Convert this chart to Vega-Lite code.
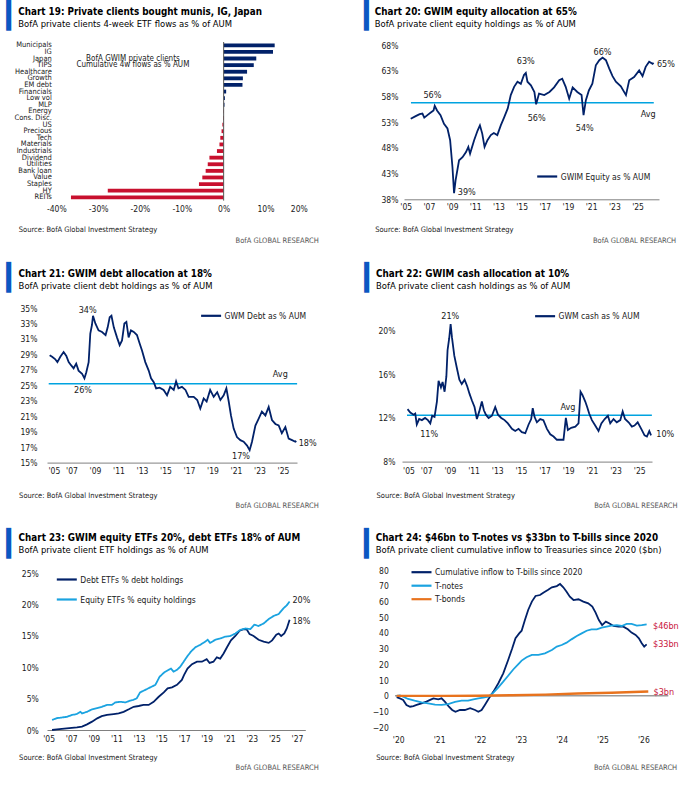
{
"$schema": "https://vega.github.io/schema/vega-lite/v6.json",
"background": "white",
"padding": {"left": 6, "top": 3, "right": 0, "bottom": 0},
"datasets": {
"flows": [{"cat":"Municipals","v":12.2},{"cat":"IG","v":11.8},{"cat":"Japan","v":7.8},{"cat":"TIPS","v":7.2},{"cat":"Healthcare","v":5.6},{"cat":"Growth","v":4.6},{"cat":"EM debt","v":4.5},{"cat":"Financials","v":0.6},{"cat":"Low vol","v":0.3},{"cat":"MLP","v":0.2},{"cat":"Energy","v":-0.1},{"cat":"Cons. Disc.","v":-0.15},{"cat":"US","v":-0.3},{"cat":"Precious","v":-0.5},{"cat":"Tech","v":-0.8},{"cat":"Materials","v":-1.0},{"cat":"Industrials","v":-1.6},{"cat":"Dividend","v":-3.4},{"cat":"Utilities","v":-3.8},{"cat":"Bank loan","v":-4.3},{"cat":"Value","v":-5.1},{"cat":"Staples","v":-5.9},{"cat":"HY","v":-27.7},{"cat":"REITs","v":-36.5}],
"eq": [{"t":2005.43,"v":53.7},{"t":2005.86,"v":54.2},{"t":2006.2,"v":54.6},{"t":2006.44,"v":54.7},{"t":2006.6,"v":53.9},{"t":2006.87,"v":54.4},{"t":2007.16,"v":54.9},{"t":2007.4,"v":55.3},{"t":2007.5,"v":56.2},{"t":2007.7,"v":55.3},{"t":2008.0,"v":54.4},{"t":2008.3,"v":52.7},{"t":2008.6,"v":51.8},{"t":2008.83,"v":49.5},{"t":2009.03,"v":44.3},{"t":2009.17,"v":39.2},{"t":2009.3,"v":41.7},{"t":2009.6,"v":45.6},{"t":2009.9,"v":46.2},{"t":2010.2,"v":47.2},{"t":2010.4,"v":48.2},{"t":2010.55,"v":46.9},{"t":2010.9,"v":49.5},{"t":2011.2,"v":51.4},{"t":2011.4,"v":52.4},{"t":2011.6,"v":50.8},{"t":2011.8,"v":48.2},{"t":2012.05,"v":49.5},{"t":2012.34,"v":50.5},{"t":2012.6,"v":50.9},{"t":2012.9,"v":50.5},{"t":2013.2,"v":52.4},{"t":2013.5,"v":54.0},{"t":2013.8,"v":55.7},{"t":2014.06,"v":58.3},{"t":2014.35,"v":59.9},{"t":2014.64,"v":60.9},{"t":2014.93,"v":60.5},{"t":2015.2,"v":62.2},{"t":2015.36,"v":62.6},{"t":2015.5,"v":60.9},{"t":2015.8,"v":60.2},{"t":2016.1,"v":58.9},{"t":2016.25,"v":56.5},{"t":2016.5,"v":58.6},{"t":2016.95,"v":58.3},{"t":2017.4,"v":58.9},{"t":2017.8,"v":59.8},{"t":2018.24,"v":61.2},{"t":2018.5,"v":61.5},{"t":2018.8,"v":59.9},{"t":2019.1,"v":57.6},{"t":2019.4,"v":59.8},{"t":2019.8,"v":58.9},{"t":2020.17,"v":58.3},{"t":2020.34,"v":54.4},{"t":2020.54,"v":57.3},{"t":2020.8,"v":59.2},{"t":2021.1,"v":60.5},{"t":2021.4,"v":64.1},{"t":2021.7,"v":65.1},{"t":2021.98,"v":65.6},{"t":2022.27,"v":65.1},{"t":2022.55,"v":63.5},{"t":2022.84,"v":62.0},{"t":2023.13,"v":60.9},{"t":2023.56,"v":60.0},{"t":2024.0,"v":58.3},{"t":2024.28,"v":61.2},{"t":2024.7,"v":61.8},{"t":2025.14,"v":63.1},{"t":2025.43,"v":62.0},{"t":2025.7,"v":63.8},{"t":2026.0,"v":64.8},{"t":2026.3,"v":64.4},{"t":2026.38,"v":64.6}],
"debt": [{"t":2005.14,"v":28.9},{"t":2005.35,"v":28.7},{"t":2005.6,"v":28.4},{"t":2005.8,"v":28.0},{"t":2006.05,"v":28.7},{"t":2006.33,"v":29.3},{"t":2006.56,"v":28.8},{"t":2006.76,"v":28.0},{"t":2006.96,"v":27.6},{"t":2007.18,"v":27.2},{"t":2007.4,"v":27.8},{"t":2007.6,"v":26.9},{"t":2007.9,"v":26.5},{"t":2008.1,"v":25.9},{"t":2008.26,"v":26.7},{"t":2008.46,"v":28.0},{"t":2008.6,"v":31.7},{"t":2008.74,"v":32.8},{"t":2008.83,"v":34.0},{"t":2009.03,"v":33.0},{"t":2009.3,"v":32.1},{"t":2009.6,"v":31.9},{"t":2009.9,"v":31.5},{"t":2010.08,"v":32.5},{"t":2010.25,"v":33.8},{"t":2010.4,"v":34.0},{"t":2010.6,"v":32.5},{"t":2010.87,"v":31.2},{"t":2011.1,"v":30.2},{"t":2011.3,"v":30.8},{"t":2011.5,"v":33.0},{"t":2011.67,"v":33.2},{"t":2011.86,"v":31.2},{"t":2012.06,"v":32.1},{"t":2012.3,"v":31.9},{"t":2012.57,"v":31.5},{"t":2012.8,"v":30.4},{"t":2013.0,"v":29.5},{"t":2013.28,"v":28.0},{"t":2013.57,"v":26.9},{"t":2013.77,"v":25.9},{"t":2014.0,"v":25.4},{"t":2014.2,"v":24.6},{"t":2014.5,"v":24.7},{"t":2014.84,"v":24.4},{"t":2015.13,"v":23.7},{"t":2015.4,"v":24.8},{"t":2015.7,"v":24.4},{"t":2015.9,"v":25.5},{"t":2016.1,"v":24.6},{"t":2016.4,"v":24.8},{"t":2016.7,"v":24.4},{"t":2016.97,"v":23.5},{"t":2017.4,"v":23.5},{"t":2017.7,"v":23.1},{"t":2017.96,"v":22.0},{"t":2018.25,"v":23.3},{"t":2018.5,"v":22.9},{"t":2018.8,"v":24.4},{"t":2019.1,"v":23.5},{"t":2019.4,"v":24.1},{"t":2019.67,"v":23.1},{"t":2019.95,"v":23.7},{"t":2020.18,"v":24.6},{"t":2020.38,"v":22.9},{"t":2020.57,"v":21.1},{"t":2020.8,"v":19.4},{"t":2021.08,"v":18.3},{"t":2021.37,"v":17.9},{"t":2021.65,"v":17.7},{"t":2021.94,"v":17.2},{"t":2022.16,"v":16.6},{"t":2022.36,"v":17.7},{"t":2022.65,"v":19.8},{"t":2022.93,"v":20.7},{"t":2023.2,"v":21.6},{"t":2023.5,"v":21.1},{"t":2023.78,"v":22.2},{"t":2024.06,"v":20.5},{"t":2024.35,"v":20.0},{"t":2024.63,"v":19.8},{"t":2024.9,"v":18.8},{"t":2025.2,"v":19.6},{"t":2025.48,"v":18.1},{"t":2025.77,"v":17.9},{"t":2026.05,"v":17.7},{"t":2026.13,"v":17.8}],
"cash": [{"t":2005.42,"v":12.8},{"t":2005.65,"v":12.5},{"t":2005.93,"v":12.3},{"t":2006.07,"v":12.4},{"t":2006.2,"v":11.4},{"t":2006.4,"v":11.9},{"t":2006.63,"v":11.8},{"t":2006.9,"v":12.0},{"t":2007.14,"v":11.8},{"t":2007.34,"v":11.5},{"t":2007.5,"v":12.2},{"t":2007.7,"v":12.1},{"t":2007.9,"v":13.5},{"t":2008.04,"v":15.4},{"t":2008.24,"v":14.8},{"t":2008.38,"v":15.3},{"t":2008.55,"v":14.4},{"t":2008.7,"v":15.8},{"t":2008.8,"v":18.2},{"t":2008.94,"v":19.3},{"t":2009.06,"v":20.6},{"t":2009.17,"v":19.4},{"t":2009.37,"v":17.7},{"t":2009.6,"v":16.5},{"t":2009.8,"v":15.5},{"t":2010.0,"v":15.1},{"t":2010.24,"v":15.5},{"t":2010.46,"v":14.9},{"t":2010.66,"v":14.2},{"t":2010.86,"v":13.6},{"t":2011.08,"v":13.0},{"t":2011.28,"v":11.9},{"t":2011.48,"v":12.6},{"t":2011.7,"v":13.5},{"t":2011.87,"v":12.7},{"t":2012.04,"v":12.3},{"t":2012.27,"v":12.0},{"t":2012.55,"v":12.2},{"t":2012.83,"v":13.0},{"t":2013.06,"v":12.3},{"t":2013.34,"v":12.0},{"t":2013.62,"v":11.8},{"t":2013.9,"v":11.5},{"t":2014.24,"v":11.0},{"t":2014.52,"v":10.8},{"t":2014.8,"v":11.0},{"t":2015.08,"v":10.7},{"t":2015.37,"v":10.6},{"t":2015.65,"v":11.4},{"t":2015.87,"v":11.9},{"t":2016.0,"v":12.9},{"t":2016.15,"v":12.1},{"t":2016.35,"v":11.6},{"t":2016.63,"v":11.9},{"t":2016.9,"v":11.8},{"t":2017.2,"v":11.0},{"t":2017.48,"v":10.5},{"t":2017.76,"v":10.3},{"t":2018.04,"v":10.0},{"t":2018.32,"v":10.0},{"t":2018.6,"v":10.0},{"t":2018.8,"v":12.0},{"t":2018.97,"v":10.9},{"t":2019.25,"v":11.1},{"t":2019.6,"v":11.2},{"t":2019.87,"v":11.5},{"t":2020.04,"v":14.4},{"t":2020.2,"v":14.1},{"t":2020.44,"v":13.5},{"t":2020.6,"v":13.0},{"t":2020.77,"v":12.4},{"t":2021.0,"v":11.8},{"t":2021.28,"v":11.3},{"t":2021.56,"v":10.8},{"t":2021.8,"v":11.5},{"t":2022.08,"v":11.9},{"t":2022.35,"v":12.2},{"t":2022.55,"v":11.5},{"t":2022.83,"v":11.9},{"t":2023.1,"v":11.6},{"t":2023.4,"v":11.8},{"t":2023.6,"v":12.6},{"t":2023.8,"v":11.9},{"t":2024.1,"v":11.6},{"t":2024.38,"v":11.2},{"t":2024.6,"v":11.3},{"t":2024.87,"v":11.6},{"t":2025.17,"v":11.0},{"t":2025.45,"v":10.4},{"t":2025.65,"v":10.3},{"t":2025.85,"v":10.8},{"t":2026.0,"v":10.4}],
"etfE": [{"t":2005.3,"v":1.6},{"t":2005.74,"v":1.9},{"t":2006.2,"v":2.0},{"t":2006.6,"v":2.1},{"t":2007.07,"v":2.4},{"t":2007.5,"v":2.55},{"t":2007.8,"v":2.9},{"t":2007.95,"v":2.65},{"t":2008.4,"v":2.9},{"t":2008.84,"v":3.3},{"t":2009.3,"v":3.5},{"t":2009.7,"v":3.7},{"t":2010.17,"v":4.0},{"t":2010.6,"v":4.0},{"t":2010.9,"v":4.4},{"t":2011.35,"v":4.5},{"t":2011.8,"v":4.4},{"t":2012.24,"v":4.7},{"t":2012.5,"v":4.8},{"t":2012.8,"v":5.05},{"t":2013.1,"v":6.0},{"t":2013.56,"v":6.4},{"t":2014.0,"v":6.8},{"t":2014.45,"v":7.2},{"t":2014.83,"v":8.5},{"t":2015.25,"v":9.2},{"t":2015.63,"v":9.6},{"t":2015.84,"v":9.8},{"t":2016.07,"v":9.3},{"t":2016.37,"v":9.6},{"t":2016.66,"v":10.1},{"t":2016.96,"v":10.9},{"t":2017.26,"v":11.7},{"t":2017.6,"v":12.5},{"t":2018.0,"v":13.2},{"t":2018.44,"v":13.6},{"t":2018.88,"v":14.1},{"t":2019.09,"v":14.4},{"t":2019.3,"v":13.9},{"t":2019.77,"v":14.4},{"t":2020.2,"v":14.6},{"t":2020.65,"v":14.9},{"t":2021.1,"v":15.0},{"t":2021.54,"v":15.4},{"t":2022.0,"v":16.0},{"t":2022.42,"v":16.2},{"t":2022.87,"v":16.1},{"t":2023.22,"v":16.8},{"t":2023.6,"v":16.6},{"t":2024.05,"v":17.0},{"t":2024.5,"v":17.7},{"t":2024.93,"v":18.2},{"t":2025.38,"v":18.5},{"t":2025.8,"v":19.4},{"t":2026.1,"v":19.9},{"t":2026.35,"v":20.5}],
"etfD": [{"t":2005.3,"v":0.0},{"t":2005.74,"v":0.1},{"t":2006.6,"v":0.27},{"t":2007.5,"v":0.43},{"t":2007.95,"v":0.55},{"t":2008.4,"v":0.9},{"t":2008.84,"v":1.33},{"t":2009.3,"v":1.86},{"t":2009.7,"v":2.2},{"t":2010.17,"v":2.4},{"t":2010.76,"v":2.55},{"t":2011.2,"v":2.66},{"t":2011.64,"v":2.9},{"t":2012.1,"v":3.3},{"t":2012.53,"v":3.7},{"t":2012.97,"v":3.83},{"t":2013.4,"v":4.0},{"t":2013.86,"v":4.0},{"t":2014.3,"v":4.5},{"t":2014.75,"v":5.3},{"t":2015.2,"v":6.0},{"t":2015.54,"v":6.65},{"t":2015.93,"v":6.8},{"t":2016.37,"v":7.2},{"t":2016.8,"v":8.0},{"t":2017.0,"v":8.8},{"t":2017.3,"v":9.8},{"t":2017.7,"v":10.5},{"t":2018.14,"v":10.9},{"t":2018.58,"v":10.9},{"t":2019.0,"v":11.3},{"t":2019.26,"v":10.7},{"t":2019.6,"v":10.9},{"t":2019.9,"v":11.6},{"t":2020.2,"v":11.4},{"t":2020.5,"v":12.2},{"t":2020.8,"v":13.2},{"t":2021.15,"v":14.3},{"t":2021.54,"v":15.0},{"t":2021.92,"v":15.85},{"t":2022.28,"v":16.1},{"t":2022.57,"v":16.0},{"t":2022.8,"v":15.3},{"t":2023.16,"v":15.0},{"t":2023.6,"v":14.4},{"t":2024.05,"v":14.1},{"t":2024.5,"v":13.9},{"t":2024.8,"v":14.3},{"t":2025.17,"v":15.2},{"t":2025.38,"v":15.4},{"t":2025.6,"v":15.0},{"t":2025.88,"v":15.4},{"t":2026.1,"v":16.2},{"t":2026.35,"v":17.6}],
"bills": [{"t":2019.96,"v":-0.9},{"t":2020.04,"v":-1.6},{"t":2020.12,"v":-2.6},{"t":2020.2,"v":-5.8},{"t":2020.29,"v":-6.9},{"t":2020.37,"v":-6.5},{"t":2020.45,"v":-5.8},{"t":2020.57,"v":-4.8},{"t":2020.69,"v":-3.7},{"t":2020.78,"v":-2.6},{"t":2020.86,"v":-1.6},{"t":2020.98,"v":-2.2},{"t":2021.06,"v":-1.6},{"t":2021.14,"v":-3.7},{"t":2021.24,"v":-6.9},{"t":2021.32,"v":-9.0},{"t":2021.4,"v":-10.1},{"t":2021.51,"v":-9.0},{"t":2021.63,"v":-9.0},{"t":2021.76,"v":-7.9},{"t":2021.88,"v":-9.0},{"t":2021.96,"v":-10.1},{"t":2022.04,"v":-9.0},{"t":2022.12,"v":-5.8},{"t":2022.22,"v":-1.6},{"t":2022.33,"v":2.7},{"t":2022.45,"v":8.0},{"t":2022.57,"v":14.3},{"t":2022.69,"v":22.8},{"t":2022.79,"v":30.2},{"t":2022.87,"v":36.6},{"t":2022.96,"v":39.7},{"t":2023.02,"v":41.4},{"t":2023.1,"v":48.2},{"t":2023.18,"v":54.6},{"t":2023.27,"v":59.9},{"t":2023.36,"v":63.5},{"t":2023.47,"v":64.1},{"t":2023.55,"v":65.6},{"t":2023.66,"v":67.3},{"t":2023.76,"v":69.0},{"t":2023.88,"v":69.8},{"t":2023.96,"v":71.1},{"t":2024.04,"v":69.0},{"t":2024.12,"v":66.2},{"t":2024.2,"v":63.0},{"t":2024.29,"v":60.9},{"t":2024.41,"v":61.4},{"t":2024.53,"v":59.9},{"t":2024.65,"v":58.8},{"t":2024.75,"v":56.7},{"t":2024.83,"v":52.9},{"t":2024.91,"v":48.2},{"t":2024.99,"v":45.0},{"t":2025.08,"v":47.2},{"t":2025.16,"v":46.1},{"t":2025.27,"v":44.4},{"t":2025.39,"v":44.0},{"t":2025.51,"v":44.0},{"t":2025.62,"v":42.3},{"t":2025.71,"v":40.2},{"t":2025.81,"v":38.7},{"t":2025.89,"v":36.6},{"t":2025.96,"v":33.4},{"t":2026.02,"v":31.3},{"t":2026.08,"v":32.7}],
"notes": [{"t":2019.96,"v":-0.1},{"t":2020.04,"v":0.3},{"t":2020.12,"v":-0.5},{"t":2020.24,"v":-2.0},{"t":2020.4,"v":-3.1},{"t":2020.57,"v":-4.1},{"t":2020.73,"v":-4.8},{"t":2020.9,"v":-5.6},{"t":2021.06,"v":-5.8},{"t":2021.22,"v":-5.2},{"t":2021.39,"v":-3.9},{"t":2021.55,"v":-3.1},{"t":2021.71,"v":-3.1},{"t":2021.84,"v":-2.2},{"t":2021.96,"v":-1.6},{"t":2022.08,"v":-1.2},{"t":2022.2,"v":-0.5},{"t":2022.33,"v":2.0},{"t":2022.45,"v":5.4},{"t":2022.57,"v":9.0},{"t":2022.69,"v":12.8},{"t":2022.82,"v":16.9},{"t":2022.94,"v":20.2},{"t":2023.02,"v":22.4},{"t":2023.14,"v":24.5},{"t":2023.27,"v":26.0},{"t":2023.43,"v":26.0},{"t":2023.59,"v":27.0},{"t":2023.76,"v":29.1},{"t":2023.88,"v":31.3},{"t":2024.0,"v":32.3},{"t":2024.12,"v":33.8},{"t":2024.24,"v":35.9},{"t":2024.37,"v":38.0},{"t":2024.49,"v":39.7},{"t":2024.61,"v":41.4},{"t":2024.73,"v":42.3},{"t":2024.86,"v":42.3},{"t":2024.98,"v":43.3},{"t":2025.1,"v":44.0},{"t":2025.22,"v":44.6},{"t":2025.35,"v":45.0},{"t":2025.47,"v":44.4},{"t":2025.59,"v":45.7},{"t":2025.71,"v":45.7},{"t":2025.84,"v":44.6},{"t":2025.96,"v":45.0},{"t":2026.08,"v":45.5}],
"bonds": [{"t":2019.96,"v":0},{"t":2021.14,"v":0},{"t":2021.96,"v":0.1},{"t":2022.78,"v":0.4},{"t":2023.6,"v":0.8},{"t":2024.4,"v":1.5},{"t":2025.22,"v":2.0},{"t":2026.12,"v":2.8}]
},
"spacing": 20,
"resolve": {"scale": {"color": "independent", "strokeDash": "independent"}},
"vconcat": [
{"hconcat": [
  {"width": 260.3, "height": 158.6,
   "title": {"text": "Chart 19: Private clients bought munis, IG, Japan", "subtitle": "BofA private clients 4-week ETF flows as % of AUM", "dx": -28.7, "offset": -25.5},
   "layer": [
    {"data": {"name": "flows"}, "mark": {"type": "bar"},
     "encoding": {
      "y": {"field": "cat", "type": "nominal", "sort": null, "scale": {"paddingInner": 0.42, "paddingOuter": 0.21},
            "axis": {"labelFontSize": 7.5, "labelPadding": -4.3, "labelOverlap": false, "labelBound": false, "title": "BofA GLOBAL RESEARCH", "titleAngle": 0, "titleAlign": "right", "titleBaseline": "alphabetic", "titleX": 271.3, "titleY": 200.8, "titleColor": "#555555"}},
      "x": {"field": "v", "type": "quantitative", "scale": {"domain": [-42.23, 20], "nice": false},
            "axis": {"values": [-40, -30, -20, -10, 0, 10, 20], "labelExpr": "datum.value + '%'", "labelPadding": 4, "title": "Source: BofA Global Investment Strategy", "titleAlign": "left", "titleBaseline": "alphabetic", "titleX": -28.7, "titleY": 31.2}},
      "color": {"condition": {"test": "datum.v >= 0", "value": "#012169"}, "value": "#C8102E"}
     }},
    {"data": {"values": [{}]}, "mark": {"type": "rule", "color": "#555555", "strokeWidth": 1},
     "encoding": {"x": {"datum": 0, "type": "quantitative"},
      "strokeDash": {"datum": "g", "scale": {"range": [[1, 0]]}, "legend": {"title": "▎", "titleFont": "DejaVu Sans", "titleFontSize": 26, "titleFontWeight": "normal", "titleColor": "#0B57C2", "titleBaseline": "top", "titlePadding": 0, "symbolOpacity": 0, "symbolSize": 1, "labelExpr": "''", "labelFontSize": 1, "legendX": -40.7, "legendY": -39}}}},
    {"data": {"values": [{"cat": "Japan", "note": "BofA GWIM private clients"}, {"cat": "TIPS", "note": "Cumulative 4w flows as % AUM"}]},
     "mark": {"type": "text", "fontSize": 8, "align": "center", "baseline": "middle"},
     "encoding": {"y": {"field": "cat", "type": "nominal", "sort": null}, "x": {"datum": -21.7, "type": "quantitative"}, "text": {"field": "note"}}}
   ]},
  {"width": 255, "height": 157.3,
   "title": {"text": "Chart 20: GWIM equity allocation at 65%", "subtitle": "BofA private client equity holdings as % of AUM", "dx": -29.3, "offset": -25.5},
   "encoding": {
     "x": {"field": "t", "type": "quantitative", "scale": {"domain": [2004.85, 2026.85], "nice": false, "zero": false},
           "axis": {"values": [2005,2007,2009,2011,2013,2015,2017,2019,2021,2023,2025], "labelExpr": "\"'\" + substring(toString(datum.value), 2, 4)", "domain": true, "domainColor": "#808080", "labelPadding": 3, "title": "Source: BofA Global Investment Strategy", "titleAlign": "left", "titleBaseline": "alphabetic", "titleX": -29.3, "titleY": 32.5}},
     "y": {"field": "v", "type": "quantitative", "scale": {"domain": [38, 68.64], "nice": false, "zero": false},
           "axis": {"values": [38,43,48,53,58,63,68], "labelExpr": "datum.value + '%'", "labelPadding": 6, "title": "BofA GLOBAL RESEARCH", "titleAngle": 0, "titleAlign": "right", "titleBaseline": "alphabetic", "titleX": 271.7, "titleY": 200.8, "titleColor": "#555555"}}
   },
   "layer": [
    {"data": {"values": [{"t": 2005.45, "t2": 2026.4, "v": 56.8}]}, "mark": {"type": "rule", "color": "#00A3E0", "strokeWidth": 1.6},
     "encoding": {"x2": {"field": "t2"},
      "strokeDash": {"datum": "g", "scale": {"range": [[1, 0]]}, "legend": {"title": "▎", "titleFont": "DejaVu Sans", "titleFontSize": 26, "titleFontWeight": "normal", "titleColor": "#0B57C2", "titleBaseline": "top", "titlePadding": 0, "symbolOpacity": 0, "symbolSize": 1, "labelExpr": "''", "labelFontSize": 1, "legendX": -40, "legendY": -39}}}},
    {"data": {"name": "eq"}, "mark": {"type": "line", "strokeWidth": 1.8},
     "encoding": {"color": {"datum": "GWIM Equity as % AUM", "scale": {"range": ["#012169"]}, "legend": {"title": null, "legendX": 136.7, "legendY": 128}}}},
    {"data": {"values": [{"t": 2007.3, "v": 58.3, "l": "56%"}, {"t": 2015.36, "v": 64.9, "l": "63%"}, {"t": 2016.3, "v": 53.9, "l": "56%"}, {"t": 2020.45, "v": 51.9, "l": "54%"}, {"t": 2021.98, "v": 66.6, "l": "66%"}, {"t": 2027.45, "v": 64.3, "l": "65%"}, {"t": 2025.92, "v": 54.7, "l": "Avg"}, {"t": 2010.27, "v": 39.4, "l": "39%"}]},
     "mark": {"type": "text", "fontSize": 9}, "encoding": {"text": {"field": "l"}}}
   ]}
], "spacing": 45, "resolve": {"scale": {"color": "independent", "strokeDash": "independent"}}},
{"hconcat": [
  {"width": 250, "height": 154.6,
   "title": {"text": "Chart 21: GWIM debt allocation at 18%", "subtitle": "BofA private client debt holdings as % of AUM", "dx": -28.4, "offset": -25.5},
   "encoding": {
     "x": {"field": "t", "type": "quantitative", "scale": {"domain": [2004.915, 2026.19], "nice": false, "zero": false},
           "axis": {"values": [2005,2007,2009,2011,2013,2015,2017,2019,2021,2023,2025], "labelExpr": "\"'\" + substring(toString(datum.value), 2, 4)", "domain": true, "domainColor": "#808080", "labelPadding": 4, "title": "Source: BofA Global Investment Strategy", "titleAlign": "left", "titleBaseline": "alphabetic", "titleX": -28.4, "titleY": 35.2}},
     "y": {"field": "v", "type": "quantitative", "scale": {"domain": [15, 35], "nice": false, "zero": false},
           "axis": {"values": [15,17,19,21,23,25,27,29,31,33,35], "labelExpr": "datum.value + '%'", "labelPadding": 10, "title": "BofA GLOBAL RESEARCH", "titleAngle": 0, "titleAlign": "right", "titleBaseline": "alphabetic", "titleX": 271.3, "titleY": 199.8, "titleColor": "#555555"}}
   },
   "layer": [
    {"data": {"values": [{"t": 2005.06, "t2": 2026.2, "v": 25.2}]}, "mark": {"type": "rule", "color": "#00A3E0", "strokeWidth": 1.6},
     "encoding": {"x2": {"field": "t2"},
      "strokeDash": {"datum": "g", "scale": {"range": [[1, 0]]}, "legend": {"title": "▎", "titleFont": "DejaVu Sans", "titleFontSize": 26, "titleFontWeight": "normal", "titleColor": "#0B57C2", "titleBaseline": "top", "titlePadding": 0, "symbolOpacity": 0, "symbolSize": 1, "labelExpr": "''", "labelFontSize": 1, "legendX": -40.7, "legendY": -42.7}}}},
    {"data": {"name": "debt"}, "mark": {"type": "line", "strokeWidth": 1.8},
     "encoding": {"color": {"datum": "GWM Debt as % AUM", "scale": {"range": ["#012169"]}, "legend": {"title": null, "legendX": 157.6, "legendY": 1.3}}}},
    {"data": {"values": [{"t": 2008.38, "v": 34.7, "l": "34%"}, {"t": 2007.98, "v": 24.35, "l": "26%"}, {"t": 2021.43, "v": 15.9, "l": "17%"}, {"t": 2027.1, "v": 17.6, "l": "18%"}, {"t": 2024.77, "v": 26.4, "l": "Avg"}]},
     "mark": {"type": "text", "fontSize": 9}, "encoding": {"text": {"field": "l"}}}
   ]},
  {"width": 250, "height": 153.6,
   "title": {"text": "Chart 22: GWIM cash allocation at 10%", "subtitle": "BofA private client cash holdings as % of AUM", "dx": -26, "offset": -25.5},
   "encoding": {
     "x": {"field": "t", "type": "quantitative", "scale": {"domain": [2004.95, 2026.08], "nice": false, "zero": false},
           "axis": {"values": [2005,2007,2009,2011,2013,2015,2017,2019,2021,2023,2025], "labelExpr": "\"'\" + substring(toString(datum.value), 2, 4)", "domain": true, "domainColor": "#808080", "labelPadding": 5, "title": "Source: BofA Global Investment Strategy", "titleAlign": "left", "titleBaseline": "alphabetic", "titleX": -26, "titleY": 36.2}},
     "y": {"field": "v", "type": "quantitative", "scale": {"domain": [8, 22.07], "nice": false, "zero": false},
           "axis": {"values": [8,12,16,20], "labelExpr": "datum.value + '%'", "labelPadding": 7, "title": "BofA GLOBAL RESEARCH", "titleAngle": 0, "titleAlign": "right", "titleBaseline": "alphabetic", "titleX": 275, "titleY": 199.8, "titleColor": "#555555"}}
   },
   "layer": [
    {"data": {"values": [{"t": 2005.37, "t2": 2026.07, "v": 12.25}]}, "mark": {"type": "rule", "color": "#00A3E0", "strokeWidth": 1.6},
     "encoding": {"x2": {"field": "t2"},
      "strokeDash": {"datum": "g", "scale": {"range": [[1, 0]]}, "legend": {"title": "▎", "titleFont": "DejaVu Sans", "titleFontSize": 26, "titleFontWeight": "normal", "titleColor": "#0B57C2", "titleBaseline": "top", "titlePadding": 0, "symbolOpacity": 0, "symbolSize": 1, "labelExpr": "''", "labelFontSize": 1, "legendX": -37.7, "legendY": -42.7}}}},
    {"data": {"name": "cash"}, "mark": {"type": "line", "strokeWidth": 1.8},
     "encoding": {"color": {"datum": "GWM cash as % AUM", "scale": {"range": ["#012169"]}, "legend": {"title": null, "legendX": 136.6, "legendY": 1.7}}}},
    {"data": {"values": [{"t": 2009.03, "v": 21.3, "l": "21%"}, {"t": 2007.25, "v": 10.5, "l": "11%"}, {"t": 2018.97, "v": 13.0, "l": "Avg"}, {"t": 2027.2, "v": 10.5, "l": "10%"}]},
     "mark": {"type": "text", "fontSize": 9}, "encoding": {"text": {"field": "l"}}}
   ]}
], "spacing": 45, "resolve": {"scale": {"color": "independent", "strokeDash": "independent"}}},
{"hconcat": [
  {"width": 258.3, "height": 160,
   "title": {"text": "Chart 23: GWIM equity ETFs 20%, debt ETFs 18% of AUM", "subtitle": "BofA private client ETF holdings as % of AUM", "dx": -28.4, "offset": -23.5},
   "encoding": {
     "x": {"field": "t", "type": "quantitative", "scale": {"domain": [2004.85, 2027.74], "nice": false, "zero": false},
           "axis": {"values": [2005,2007,2009,2011,2013,2015,2017,2019,2021,2023,2025,2027], "labelExpr": "\"'\" + substring(toString(datum.value), 2, 4)", "domain": true, "domainColor": "#808080", "labelPadding": 4, "title": "Source: BofA Global Investment Strategy", "titleAlign": "left", "titleBaseline": "alphabetic", "titleX": -28.4, "titleY": 29.5}},
     "y": {"field": "v", "type": "quantitative", "scale": {"domain": [0, 25.53], "nice": false},
           "axis": {"values": [0,5,10,15,20,25], "labelExpr": "datum.value + '%'", "labelPadding": 8.7, "title": "BofA GLOBAL RESEARCH", "titleAngle": 0, "titleAlign": "right", "titleBaseline": "alphabetic", "titleX": 271.3, "titleY": 199.5, "titleColor": "#555555"}}
   },
   "layer": [
    {"data": {"name": "etfD"}, "mark": {"type": "line", "strokeWidth": 1.8},
     "encoding": {"color": {"datum": "Debt ETFs % debt holdings", "scale": {"domain": ["Debt ETFs % debt holdings", "Equity ETFs % equity holdings"], "range": ["#012169", "#1BA3E0"]}, "legend": {"title": null, "legendX": 13.3, "legendY": 3, "rowPadding": 9}}}},
    {"data": {"name": "etfE"}, "mark": {"type": "line", "strokeWidth": 1.8},
     "encoding": {"color": {"datum": "Equity ETFs % equity holdings"},
      "strokeDash": {"datum": "g", "scale": {"range": [[1, 0]]}, "legend": {"title": "▎", "titleFont": "DejaVu Sans", "titleFontSize": 26, "titleFontWeight": "normal", "titleColor": "#0B57C2", "titleBaseline": "top", "titlePadding": 0, "symbolOpacity": 0, "symbolSize": 1, "labelExpr": "''", "labelFontSize": 1, "legendX": -40.7, "legendY": -39.3}}}},
    {"data": {"values": [{"t": 2027.4, "v": 20.7, "l": "20%"}, {"t": 2027.4, "v": 17.4, "l": "18%"}]},
     "mark": {"type": "text", "fontSize": 9}, "encoding": {"text": {"field": "l"}}}
   ]},
  {"width": 273.3, "height": 157.3,
   "title": {"text": "Chart 24: $46bn to T-notes vs $33bn to T-bills since 2020", "subtitle": "BofA private client cumulative inflow to Treasuries since 2020 ($bn)", "dx": -19.3, "offset": -23.5},
   "encoding": {
     "x": {"field": "t", "type": "quantitative", "scale": {"domain": [2019.92, 2026.61], "nice": false, "zero": false},
           "axis": {"values": [2020,2021,2022,2023,2024,2025,2026], "labelExpr": "\"'\" + substring(toString(datum.value), 2, 4)", "labelPadding": 8, "title": "Source: BofA Global Investment Strategy", "titleAlign": "left", "titleBaseline": "alphabetic", "titleX": -19.3, "titleY": 32.2}},
     "y": {"field": "v", "type": "quantitative", "scale": {"domain": [-20, 80], "nice": false, "zero": false},
           "axis": {"values": [-20,-10,0,10,20,30,40,50,60,70,80], "labelPadding": 6.7, "title": "BofA GLOBAL RESEARCH", "titleAngle": 0, "titleAlign": "right", "titleBaseline": "alphabetic", "titleX": 281.7, "titleY": 199.5, "titleColor": "#555555"}}
   },
   "layer": [
    {"data": {"values": [{"t": 2019.92, "t2": 2026.61, "v": 0}]}, "mark": {"type": "rule", "color": "#9a9a9a", "strokeWidth": 1.5},
     "encoding": {"x2": {"field": "t2"},
      "strokeDash": {"datum": "g", "scale": {"range": [[1, 0]]}, "legend": {"title": "▎", "titleFont": "DejaVu Sans", "titleFontSize": 26, "titleFontWeight": "normal", "titleColor": "#0B57C2", "titleBaseline": "top", "titlePadding": 0, "symbolOpacity": 0, "symbolSize": 1, "labelExpr": "''", "labelFontSize": 1, "legendX": -31, "legendY": -39.3}}}},
    {"data": {"name": "bills"}, "mark": {"type": "line", "strokeWidth": 1.8},
     "encoding": {"color": {"datum": "Cumulative inflow to T-bills since 2020", "scale": {"domain": ["Cumulative inflow to T-bills since 2020", "T-notes", "T-bonds"], "range": ["#012169", "#1BA3E0", "#E8731E"]}, "legend": {"title": null, "legendX": 20, "legendY": -4.3, "rowPadding": 2.5}}}},
    {"data": {"name": "notes"}, "mark": {"type": "line", "strokeWidth": 1.8},
     "encoding": {"color": {"datum": "T-notes"}}},
    {"data": {"name": "bonds"}, "mark": {"type": "line", "strokeWidth": 2.4},
     "encoding": {"color": {"datum": "T-bonds"}}},
    {"data": {"values": [{"t": 2026.55, "v": 44.6, "l": "$46bn"}, {"t": 2026.55, "v": 32.7, "l": "$33bn"}, {"t": 2026.5, "v": 2.4, "l": "$3bn"}]},
     "mark": {"type": "text", "fontSize": 9, "color": "#C8143C"}, "encoding": {"text": {"field": "l"}}}
   ]}
], "spacing": 45, "resolve": {"scale": {"color": "independent", "strokeDash": "independent"}}}
],
"config": {
 "font": "Liberation Sans Narrow, DejaVu Sans Condensed, Arial Narrow, Liberation Sans, sans-serif",
 "view": {"stroke": null},
 "axis": {"grid": false, "ticks": false, "domain": false, "labelFont": "Liberation Sans Narrow, DejaVu Sans Condensed, Liberation Sans, sans-serif", "labelFontSize": 8.5, "labelColor": "#1a1a1a", "titleFont": "Liberation Sans Narrow, DejaVu Sans Condensed, Liberation Sans, sans-serif", "titleFontWeight": "normal", "titleFontSize": 7.5, "titleColor": "#1a1a1a"},
 "legend": {"orient": "none", "padding": 0, "labelFont": "Liberation Sans Narrow, DejaVu Sans Condensed, Liberation Sans, sans-serif", "labelFontSize": 8.5, "labelColor": "#1a1a1a", "symbolType": "M-2,0L2,0", "symbolSize": 100, "symbolStrokeWidth": 2.2, "labelOffset": 7},
 "title": {"anchor": "start", "frame": "group", "font": "Liberation Sans Narrow, DejaVu Sans Condensed, Liberation Sans, sans-serif", "fontSize": 9.8, "fontWeight": "bold", "color": "#000000", "subtitleFont": "Liberation Sans Narrow, DejaVu Sans Condensed, Liberation Sans, sans-serif", "subtitleFontSize": 9.4, "subtitleColor": "#000000", "subtitlePadding": 3.5},
 "text": {"font": "Liberation Sans Narrow, DejaVu Sans Condensed, Liberation Sans, sans-serif", "fontSize": 9, "color": "#1a1a1a"}
}
}
